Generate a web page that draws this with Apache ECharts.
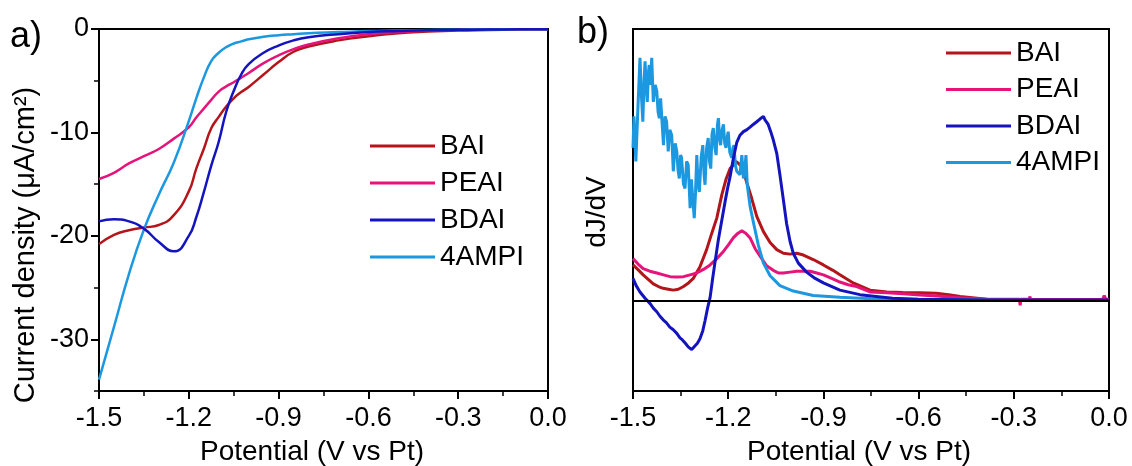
<!DOCTYPE html>
<html><head><meta charset="utf-8">
<script src="https://cdn.jsdelivr.net/npm/echarts@6/dist/echarts.min.js"></script>
<style>html,body{margin:0;padding:0;background:#fff}#c{width:1132px;height:466px}</style>
</head><body><div id="c"></div>
<script>
// ---------- data ----------
const seriesNames = ['BAI', 'PEAI', 'BDAI', '4AMPI'];
const xTickValues = [-1.5, -1.2, -0.9, -0.6, -0.3, 0.0];
const yMajorTicksA = [-30, -20, -10, 0];
const yMinorTicksA = [-35, -25, -15, -5];

// panel a: LSV current density (uA/cm2) vs potential (V vs Pt)
const potentialA = [-1.5, -1.45, -1.4, -1.35, -1.3, -1.25, -1.2, -1.175, -1.15, -1.125, -1.1, -1.075, -1.05, -1.025, -1.0, -0.95, -0.9, -0.85, -0.8, -0.7, -0.6, -0.5, -0.4, -0.3, -0.2, -0.1, 0];
const baiA   = [-20.8, -19.9, -19.45, -19.2, -18.95, -18.0, -15.7, -13.5, -11.6, -9.6, -8.5, -7.5, -6.7, -6.1, -5.6, -4.4, -3.2, -2.2, -1.7, -1.1, -0.7, -0.4, -0.25, -0.15, -0.1, -0.05, -0.03];
const peaiA  = [-14.5, -13.9, -13.0, -12.3, -11.6, -10.6, -9.5, -8.55, -7.7, -6.85, -6.05, -5.55, -5.15, -4.7, -4.25, -3.3, -2.55, -1.95, -1.5, -0.9, -0.5, -0.3, -0.15, -0.1, -0.05, -0.03, -0.02];
const bdaiA  = [-18.6, -18.4, -18.6, -19.3, -20.6, -21.5, -20.0, -18.2, -15.8, -13.2, -10.9, -8.0, -6.0, -4.4, -3.4, -2.3, -1.6, -1.1, -0.8, -0.5, -0.3, -0.2, -0.12, -0.08, -0.05, -0.03, -0.02];
const ampiA  = [-33.9, -28.8, -23.7, -19.4, -16.0, -12.9, -8.9, -6.7, -4.7, -3.1, -2.3, -1.75, -1.4, -1.2, -1.0, -0.75, -0.6, -0.5, -0.4, -0.3, -0.2, -0.15, -0.1, -0.07, -0.05, -0.03, -0.02];

// panel b: dJ/dV (arbitrary units) vs potential
const baiBV = [-1.500,-1.485,-1.468,-1.452,-1.436,-1.420,-1.405,-1.389,-1.373,-1.357,-1.341,-1.325,-1.310,-1.289,-1.268,-1.252,-1.236,-1.220,-1.207,-1.194,-1.184,-1.176,-1.168,-1.160,-1.152,-1.142,-1.126,-1.110,-1.089,-1.068,-1.047,-1.026,-1.005,-0.984,-0.963,-0.932,-0.900,-0.870,-0.848,-0.806,-0.753,-0.700,-0.650,-0.595,-0.545,-0.505,-0.469,-0.385,-0.300,-0.200,0.000];
const baiBY = [0.40,0.35,0.29,0.24,0.19,0.16,0.14,0.13,0.12,0.13,0.16,0.20,0.25,0.38,0.57,0.75,0.92,1.18,1.35,1.47,1.51,1.55,1.53,1.50,1.44,1.32,1.14,0.94,0.77,0.65,0.57,0.53,0.52,0.53,0.51,0.46,0.40,0.34,0.29,0.20,0.12,0.10,0.095,0.09,0.085,0.07,0.05,0.02,0.01,0.01,0.01];

const peaiBV = [-1.500,-1.484,-1.468,-1.447,-1.425,-1.404,-1.383,-1.362,-1.341,-1.320,-1.299,-1.278,-1.257,-1.236,-1.215,-1.200,-1.184,-1.170,-1.157,-1.144,-1.131,-1.115,-1.100,-1.079,-1.058,-1.042,-1.026,-1.005,-0.984,-0.963,-0.942,-0.921,-0.900,-0.874,-0.848,-0.822,-0.795,-0.753,-0.700,-0.648,-0.596,-0.543,-0.469,-0.385,-0.300,-0.282,-0.280,-0.278,-0.251,-0.249,-0.247,-0.150,-0.020,-0.015,-0.010,0.000];
const peaiBY = [0.47,0.41,0.36,0.33,0.31,0.29,0.27,0.265,0.27,0.29,0.31,0.35,0.40,0.47,0.55,0.62,0.70,0.75,0.78,0.75,0.70,0.58,0.50,0.39,0.34,0.31,0.31,0.32,0.33,0.33,0.33,0.31,0.29,0.25,0.21,0.18,0.16,0.10,0.09,0.08,0.065,0.055,0.035,0.02,0.02,0.02,-0.05,0.02,0.02,0.05,0.015,0.015,0.02,0.06,0.02,0.02];

const bdaiBV = [-1.500,-1.490,-1.478,-1.462,-1.446,-1.436,-1.425,-1.415,-1.405,-1.395,-1.384,-1.373,-1.362,-1.352,-1.345,-1.335,-1.326,-1.320,-1.315,-1.310,-1.305,-1.297,-1.289,-1.280,-1.273,-1.265,-1.257,-1.249,-1.242,-1.231,-1.220,-1.210,-1.202,-1.194,-1.184,-1.173,-1.163,-1.158,-1.152,-1.147,-1.142,-1.136,-1.131,-1.126,-1.121,-1.115,-1.110,-1.105,-1.100,-1.094,-1.089,-1.084,-1.080,-1.074,-1.066,-1.058,-1.047,-1.037,-1.026,-1.016,-1.005,-0.995,-0.979,-0.953,-0.926,-0.900,-0.848,-0.785,-0.682,-0.600,-0.400,-0.200,0.000];
const bdaiBY = [0.25,0.17,0.10,0.03,-0.03,-0.08,-0.12,-0.17,-0.21,-0.24,-0.29,-0.32,-0.36,-0.41,-0.43,-0.47,-0.51,-0.50,-0.54,-0.52,-0.50,-0.47,-0.42,-0.33,-0.22,-0.08,0.04,0.25,0.42,0.68,0.90,1.10,1.25,1.38,1.58,1.76,1.84,1.82,1.88,1.86,1.90,1.88,1.93,1.91,1.96,1.95,1.99,1.97,2.02,2.00,2.05,2.01,2.03,1.96,1.88,1.79,1.64,1.40,1.12,0.86,0.66,0.53,0.42,0.32,0.25,0.20,0.12,0.07,0.03,0.02,0.01,0.01,0.01];

const ampiBV = [-1.500,-1.497,-1.491,-1.485,-1.478,-1.473,-1.469,-1.465,-1.462,-1.458,-1.455,-1.451,-1.449,-1.445,-1.441,-1.436,-1.430,-1.425,-1.421,-1.417,-1.413,-1.410,-1.404,-1.399,-1.394,-1.389,-1.384,-1.378,-1.373,-1.367,-1.362,-1.358,-1.354,-1.350,-1.347,-1.341,-1.336,-1.331,-1.326,-1.320,-1.316,-1.312,-1.307,-1.303,-1.299,-1.295,-1.291,-1.285,-1.280,-1.276,-1.273,-1.268,-1.263,-1.259,-1.255,-1.251,-1.247,-1.242,-1.238,-1.234,-1.231,-1.227,-1.224,-1.219,-1.215,-1.211,-1.207,-1.203,-1.200,-1.195,-1.189,-1.185,-1.182,-1.177,-1.173,-1.168,-1.163,-1.157,-1.152,-1.148,-1.144,-1.140,-1.131,-1.121,-1.105,-1.089,-1.068,-1.037,-0.995,-0.932,-0.848,-0.750,-0.600,-0.400,-0.200,0.000];
const ampiBY = [1.70,2.05,1.55,2.10,2.70,2.25,1.99,2.45,2.66,2.35,2.21,2.55,2.62,2.40,2.70,2.21,2.40,2.33,2.10,2.03,2.25,2.27,1.73,2.05,1.99,1.66,1.90,1.84,1.44,1.75,1.66,1.45,1.36,1.62,1.59,1.30,1.25,1.55,1.51,1.03,1.35,1.33,0.92,1.20,1.62,1.30,1.21,1.60,1.73,1.40,1.29,1.70,1.81,1.55,1.47,1.85,1.92,1.70,1.62,1.95,2.03,1.80,1.73,1.90,1.96,1.75,1.70,1.82,1.88,1.65,1.59,1.70,1.73,1.50,1.44,1.45,1.40,1.62,1.36,1.45,1.62,1.29,1.05,0.88,0.62,0.42,0.28,0.17,0.11,0.06,0.04,0.025,0.015,0.01,0.005,0.005];

// ---------- chart ----------
const FONT = '"Liberation Sans", Arial, sans-serif';
const colors = { 'BAI': '#B4151B', 'PEAI': '#E5137A', 'BDAI': '#1414BE', '4AMPI': '#1B98E0' };
const zip = (xs, ys) => xs.map((x, i) => [x, ys[i]]);
const fmtX = v => (Math.abs(v) < 1e-9 ? '0.0' : v.toFixed(1));

function xAxisFor(grid) {
  return {
    type: 'value', gridIndex: grid, min: -1.5, max: 0, interval: 0.3,
    axisLine: { show: true, onZero: false, lineStyle: { color: '#000', width: 2 } },
    axisTick: { show: true, inside: false, length: 8, lineStyle: { color: '#000', width: 2 } },
    minorTick: { show: true, splitNumber: 2, length: 5, lineStyle: { color: '#000', width: 1.5 } },
    axisLabel: { color: '#000', fontSize: 27, fontFamily: FONT, margin: 14, formatter: fmtX },
    splitLine: { show: false }, minorSplitLine: { show: false }
  };
}

const option = {
  animation: false,
  backgroundColor: '#fff',
  grid: [
    { left: 99, top: 29, width: 449, height: 362, show: true, borderColor: '#000', borderWidth: 2, backgroundColor: 'transparent' },
    { left: 633, top: 29, width: 476, height: 362, show: true, borderColor: '#000', borderWidth: 2, backgroundColor: 'transparent' },
    { left: 99, top: 29, width: 449, height: 362, show: false }
  ],
  xAxis: [
    xAxisFor(0), xAxisFor(1),
    { type: 'value', gridIndex: 2, min: -1.5, max: 0, show: false }
  ],
  yAxis: [
    {
      type: 'value', gridIndex: 0, min: -35, max: 0, interval: 5,
      axisLine: { show: true, onZero: false, lineStyle: { color: '#000', width: 2 } },
      axisTick: { show: true, inside: false, length: 8, customValues: yMajorTicksA, lineStyle: { color: '#000', width: 2 } },
      axisLabel: { color: '#000', fontSize: 27, fontFamily: FONT, margin: 10, customValues: yMajorTicksA,
        formatter: v => (Math.round(v) % 10 === 0 ? String(Math.round(v)) : '') },
      splitLine: { show: false }
    },
    {
      type: 'value', gridIndex: 2, min: -35, max: 0, interval: 5, position: 'left',
      axisLine: { show: false, onZero: false },
      axisTick: { show: true, inside: false, length: 5, customValues: yMinorTicksA, lineStyle: { color: '#000', width: 1.5 } },
      axisLabel: { show: false },
      splitLine: { show: false }
    },
    {
      type: 'value', gridIndex: 1, min: -1, max: 3.02,
      axisLine: { show: true, onZero: false, lineStyle: { color: '#000', width: 2 } },
      axisTick: { show: false }, axisLabel: { show: false }, splitLine: { show: false }
    }
  ],
  legend: [
    {
      data: seriesNames, orient: 'vertical', left: 365, top: 127,
      icon: 'rect', itemWidth: 65, itemHeight: 3, itemGap: 9,
      textStyle: { color: '#000', fontSize: 28, fontFamily: FONT }
    },
    {
      data: seriesNames, orient: 'vertical', left: 941, top: 34,
      icon: 'rect', itemWidth: 65, itemHeight: 3, itemGap: 8.5,
      textStyle: { color: '#000', fontSize: 28, fontFamily: FONT }
    }
  ],
  graphic: [
    { type: 'text', x: 26, y: 37, style: { text: 'a)', font: '36px ' + FONT, fill: '#000', textAlign: 'center', textVerticalAlign: 'middle', align: 'center', verticalAlign: 'middle' } },
    { type: 'text', x: 593, y: 33, style: { text: 'b)', font: '36px ' + FONT, fill: '#000', textAlign: 'center', textVerticalAlign: 'middle', align: 'center', verticalAlign: 'middle' } },
    { type: 'text', x: 26, y: 245, rotation: Math.PI / 2, style: { text: 'Current density (\u03BCA/cm\u00B2)', font: '29px ' + FONT, fill: '#000', textAlign: 'center', textVerticalAlign: 'middle', align: 'center', verticalAlign: 'middle' } },
    { type: 'text', x: 312, y: 452, style: { text: 'Potential (V vs Pt)', font: '28px ' + FONT, fill: '#000', textAlign: 'center', textVerticalAlign: 'middle', align: 'center', verticalAlign: 'middle' } },
    { type: 'text', x: 597, y: 212, rotation: Math.PI / 2, style: { text: 'dJ/dV', font: '28px ' + FONT, fill: '#000', textAlign: 'center', textVerticalAlign: 'middle', align: 'center', verticalAlign: 'middle' } },
    { type: 'text', x: 859, y: 452, style: { text: 'Potential (V vs Pt)', font: '28px ' + FONT, fill: '#000', textAlign: 'center', textVerticalAlign: 'middle', align: 'center', verticalAlign: 'middle' } }
  ],
  series: []
};

const panelA = { 'BAI': baiA, 'PEAI': peaiA, 'BDAI': bdaiA, '4AMPI': ampiA };
const panelB = { 'BAI': [baiBV, baiBY], 'PEAI': [peaiBV, peaiBY], 'BDAI': [bdaiBV, bdaiBY], '4AMPI': [ampiBV, ampiBY] };
const drawOrder = ['BAI', 'PEAI', '4AMPI', 'BDAI'];

drawOrder.forEach(name => {
  option.series.push({
    name, type: 'line', xAxisIndex: 0, yAxisIndex: 0,
    data: zip(potentialA, panelA[name]),
    smooth: 0.5, showSymbol: false, symbol: 'none',
    lineStyle: { color: colors[name], width: 2.5 }, itemStyle: { color: colors[name] }
  });
});
drawOrder.forEach(name => {
  const s = {
    name, type: 'line', xAxisIndex: 1, yAxisIndex: 2,
    data: zip(panelB[name][0], panelB[name][1]),
    showSymbol: false, symbol: 'none',
    lineStyle: { color: colors[name], width: 3 }, itemStyle: { color: colors[name] }
  };
  if (name === 'BDAI') {
    s.markLine = { silent: true, symbol: ['none', 'none'], label: { show: false },
      lineStyle: { color: '#000', width: 2, type: 'solid' }, data: [{ yAxis: 0 }] };
  }
  option.series.push(s);
});

const chart = echarts.init(document.getElementById('c'), null, { renderer: 'canvas' });
chart.setOption(option);
</script>
</body></html>
